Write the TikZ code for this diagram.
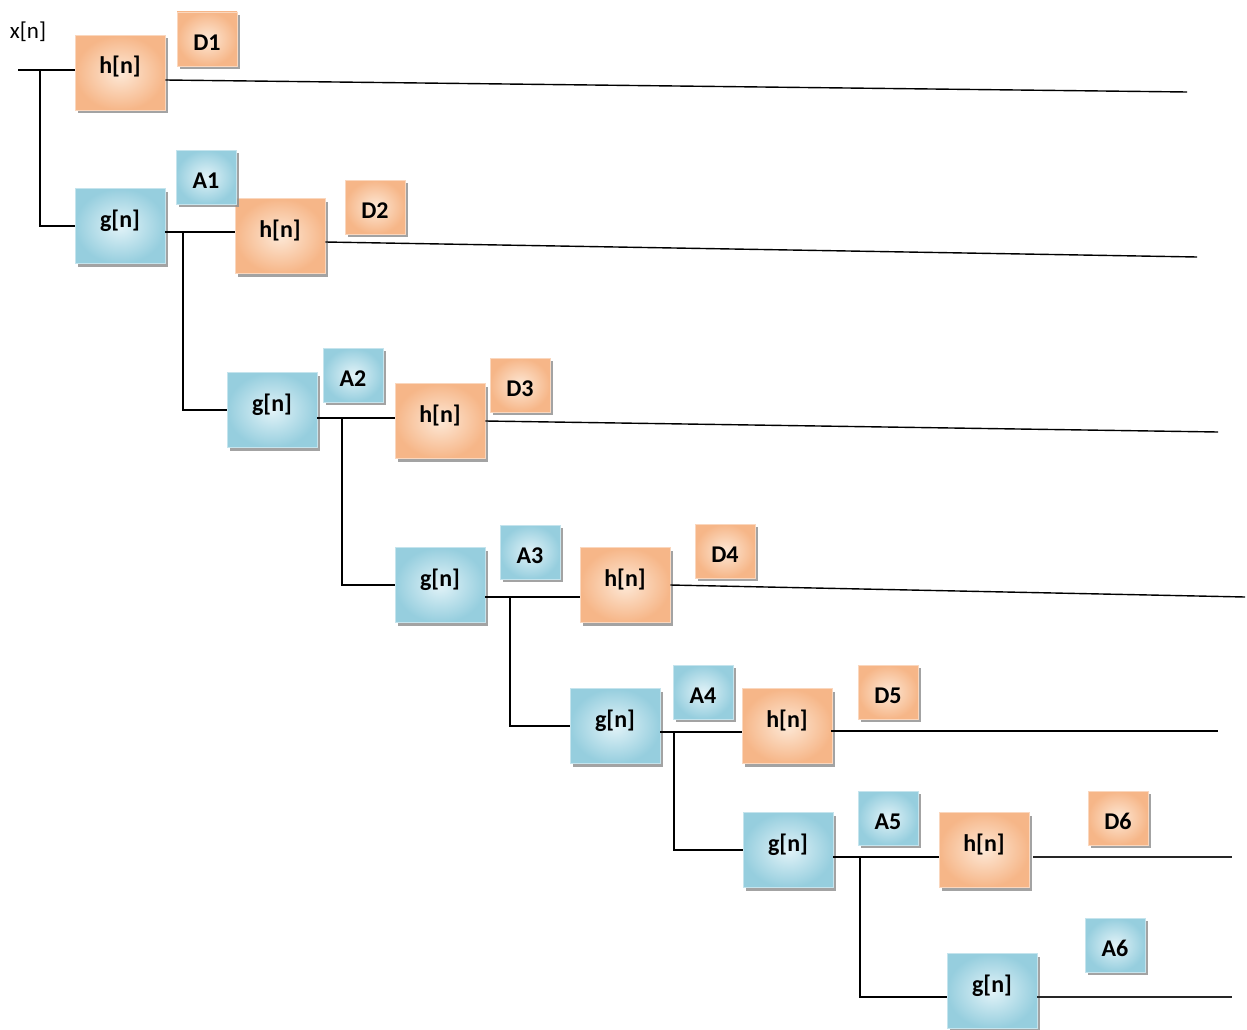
\documentclass[tikz,border=0pt]{standalone}
\usepackage{fontspec}
\setmainfont{Carlito}
\usetikzlibrary{shadows}
\definecolor{hedge}{RGB}{246,182,136}
\definecolor{hmid}{RGB}{253,232,214}
\definecolor{gedge}{RGB}{150,206,222}
\definecolor{gmid}{RGB}{226,243,248}
\tikzset{
  filt/.style={minimum width=90pt, minimum height=75pt, inner sep=0pt,
    text height=16pt, text depth=14pt,
    font=\fontsize{24}{28}\selectfont\bfseries,
    drop shadow={shadow xshift=3pt, shadow yshift=-3pt, fill=black!45, opacity=0.8}},
  hbox/.style={filt, shading=radial, inner color=hmid, outer color=hedge, draw=hedge!55!white, line width=0.6pt},
  gbox/.style={filt, shading=radial, inner color=gmid, outer color=gedge, draw=gedge!55!white, line width=0.6pt},
  tag/.style={minimum width=60pt, minimum height=54pt, inner sep=0pt,
    text height=23pt, text depth=0pt,
    font=\fontsize{24}{28}\selectfont\bfseries,
    drop shadow={shadow xshift=3pt, shadow yshift=-3pt, fill=black!45, opacity=0.8}},
  dtag/.style={tag, shading=radial, inner color=hmid, outer color=hedge, draw=hedge!55!white, line width=0.6pt},
  atag/.style={tag, shading=radial, inner color=gmid, outer color=gedge, draw=gedge!55!white, line width=0.6pt},
  wire/.style={line width=1.4pt, black},
  heavy/.style={line width=2.8pt, black!85}
}
\begin{document}
\begin{tikzpicture}[x=1pt, y=-1pt]
\useasboundingbox (0,0) rectangle (1247,1030);

% input label
\node[font=\fontsize{23}{27}\selectfont] (xn) at (28,32) {x[n]};

% filter blocks
\node[hbox] (h1) at (120,73) {h[n]};
\node[gbox] (g1) at (120,226) {g[n]};
\node[hbox] (h2) at (280,236) {h[n]};
\node[gbox] (g2) at (272,410) {g[n]};
\node[hbox] (h3) at (440,421) {h[n]};
\node[gbox] (g3) at (440,585) {g[n]};
\node[hbox] (h4) at (625,585) {h[n]};
\node[gbox] (g4) at (615,726) {g[n]};
\node[hbox] (h5) at (787,726) {h[n]};
\node[gbox] (g5) at (788,850) {g[n]};
\node[hbox] (h6) at (984,850) {h[n]};
\node[gbox] (g6) at (992,991) {g[n]};

% output labels
\node[dtag] (D1) at (207,39) {D1};
\node[atag] (A1) at (206,177) {A1};
\node[dtag] (D2) at (375,207) {D2};
\node[atag] (A2) at (353,375) {A2};
\node[dtag] (D3) at (520,385) {D3};
\node[atag] (A3) at (530,552) {A3};
\node[dtag] (D4) at (725,551) {D4};
\node[atag] (A4) at (703,692) {A4};
\node[dtag] (D5) at (888,692) {D5};
\node[atag] (A5) at (888,818) {A5};
\node[dtag] (D6) at (1118,818) {D6};
\node[atag] (A6) at (1115,945) {A6};

% branch points and line ends
\coordinate (in) at (18,70);
\coordinate (b0) at (40,70);
\coordinate (b1) at (183,232);
\coordinate (b2) at (342,418);
\coordinate (b3) at (510,597);
\coordinate (b4) at (674,732);
\coordinate (b5) at (860,857);
\coordinate (e1) at (1187,92);
\coordinate (e2) at (1197,257);
\coordinate (e3) at (1218,432);
\coordinate (e4) at (1245,597);
\coordinate (e5) at (1218,731);
\coordinate (e6) at (1232,857);
\coordinate (e7) at (1232,997);

% input and first split
\draw[line width=2.6pt] (in) -- (b0);
\draw[wire] (b0) -- (h1.west |- b0);
\draw[wire] (b0) |- (g1.west);

% detail outputs
\draw[wire] ([yshift=-7pt]h1.east) -- (e1);
\draw[wire] ([yshift=-6pt]h2.east) -- (e2);
\draw[wire] (h3.east) -- (e3);
\draw[wire] (h4.east) -- (e4);
\draw[wire] ([xshift=-1pt,yshift=-5pt]h5.east) -- (e5);
\draw[heavy] ([xshift=4pt,yshift=-7pt]h6.east) -- (e6);
\draw[heavy] ([yshift=-6pt]g6.east) -- (e7);

% approximation cascade
\draw[wire] (g1.east |- b1) -- (h2.west |- b1);
\draw[wire] (b1) |- (g2.west);
\draw[wire] (g2.east |- b2) -- (h3.west |- b2);
\draw[wire] (b2) |- (g3.west);
\draw[wire] (g3.east |- b3) -- (h4.west |- b3);
\draw[wire] (b3) |- (g4.west);
\draw[wire] (g4.east |- b4) -- (h5.west |- b4);
\draw[wire] (b4) |- (g5.west);
\draw[wire] (g5.east |- b5) -- (h6.west |- b5);
\draw[wire] (b5) |- ([yshift=-6pt]g6.west);
\end{tikzpicture}
\end{document}
